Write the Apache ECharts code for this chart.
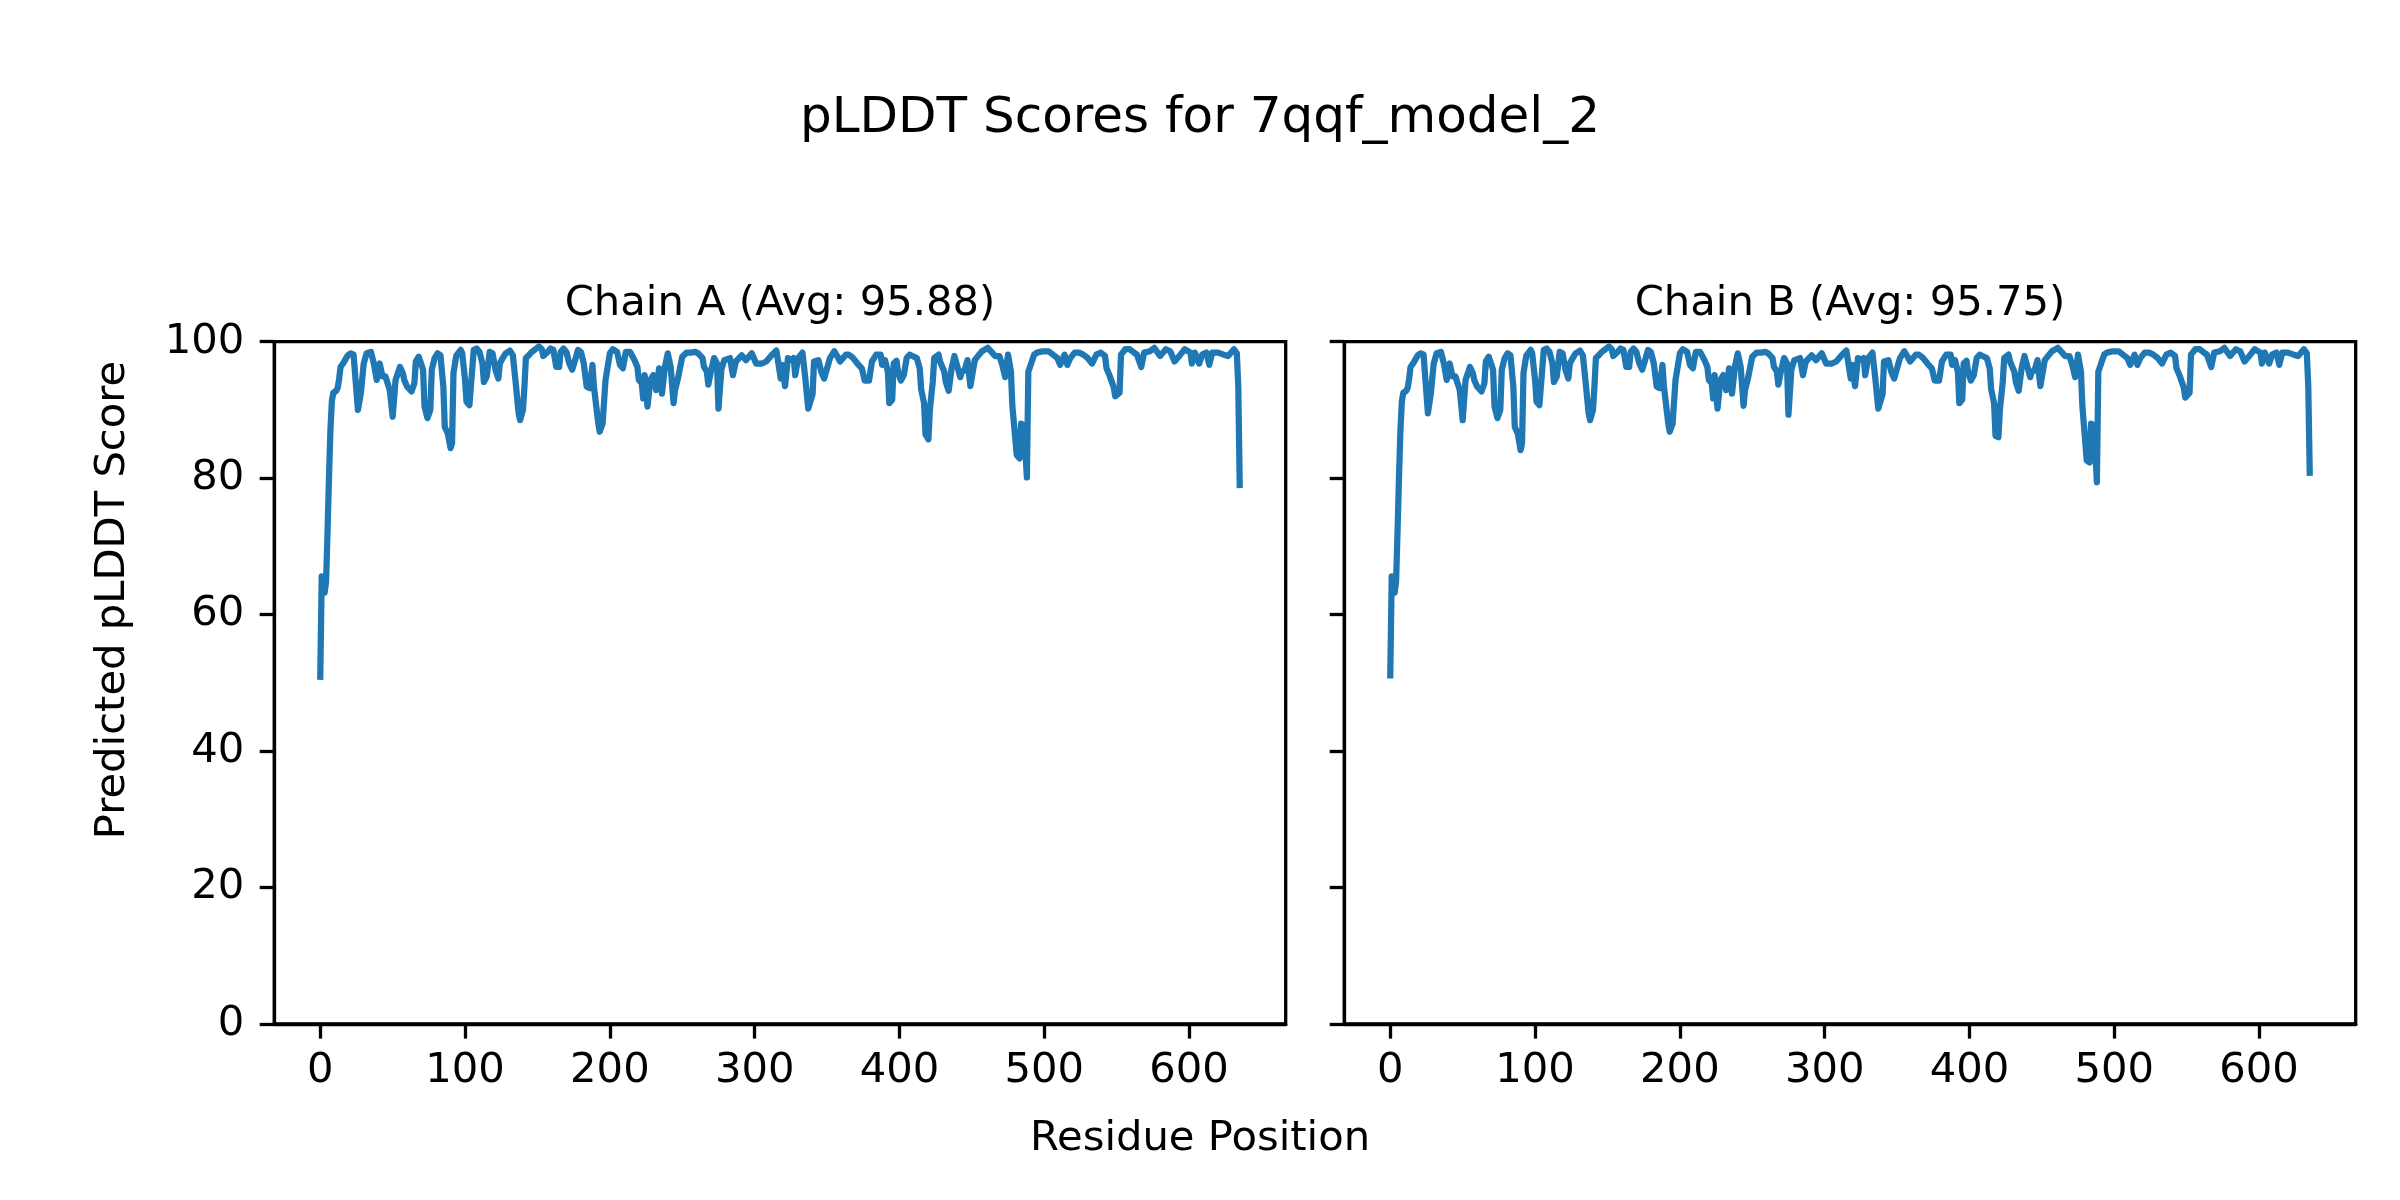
<!DOCTYPE html>
<html><head><meta charset="utf-8">
<script src="https://cdn.jsdelivr.net/npm/echarts@6/dist/echarts.min.js"></script>
<style>html,body{margin:0;padding:0;background:#fff}#c{width:2400px;height:1200px}</style>
</head><body><div id="c"></div>
<script>
// Residue positions sampled along the trace (shared by both chains)
const residues = [
0,1,2,3,4,5,6,7,8,9,
11,12,13,14,16,19,21,23,26,28,
30,32,35,37,39,41,43,45,48,50,
52,55,57,58,60,63,65,66,68,71,
72,74,76,77,79,81,83,85,86,88,
90,91,92,94,97,98,100,101,103,104,
106,108,110,112,113,115,117,119,121,123,
124,126,128,131,133,135,137,138,140,141,
142,144,146,148,151,153,154,157,159,161,
163,165,166,168,170,172,174,176,178,180,
182,184,186,188,189,192,193,195,197,200,
202,205,207,209,211,212,214,217,219,220,
222,223,224,226,228,230,232,234,235,236,
238,240,242,244,245,247,250,253,256,259,
261,264,265,267,268,270,272,274,275,277,
279,283,285,287,291,294,298,301,305,308,
312,315,318,319,321,323,326,327,328,330,
333,335,337,340,341,344,346,348,350,352,
355,357,359,363,365,368,371,374,376,379,
381,384,387,388,390,392,393,395,396,398,
399,401,403,405,407,409,412,414,415,417,
418,420,421,423,424,427,428,431,432,434,
436,438,439,442,443,445,447,449,450,452,
455,457,461,464,466,469,471,473,475,477,
478,481,483,484,486,488,489,490,493,495,
499,503,506,509,511,514,516,518,521,524,
527,530,533,536,539,542,543,545,548,549,
552,553,556,559,562,564,567,569,573,576,
580,584,587,590,594,597,601,602,604,607,
609,612,614,616,620,624,627,631,633,634,
635];

const scoresA = [
50.9,65.6,65.4,63.2,64.8,72,80,87,91.3,92.5,
92.8,93.2,94.5,96.3,96.9,98.0,98.3,98.1,90.0,92.4,
96.8,98.3,98.5,96.8,94.4,96.8,94.9,94.9,92.9,89.0,
94.4,96.3,95.4,94.4,93.4,92.7,93.9,97.1,97.8,95.9,
90.5,88.8,90.0,95.9,97.6,98.3,98.0,93.4,87.5,86.6,
84.4,85.1,95.4,98.0,98.8,98.3,94.4,91.2,90.7,93.4,
98.8,99.0,98.5,96.8,94.1,94.9,98.5,98.3,95.9,94.6,
96.8,97.6,98.3,98.7,98.0,93.9,89.5,88.5,90.0,93.4,
97.6,98.0,98.5,98.8,99.3,98.9,97.9,98.5,99.0,98.8,
96.3,96.3,98.5,99.0,98.5,96.8,95.9,97.3,98.8,98.5,
96.8,93.4,93.2,96.6,93.4,88.0,86.8,88.0,94.4,98.3,
98.9,98.5,96.6,96.1,98.5,98.3,98.5,97.3,96.3,94.4,
93.9,91.7,95.1,90.5,94.4,95.1,92.9,96.1,96.1,92.4,
96.3,98.3,96.3,91.0,92.9,94.6,97.8,98.4,98.4,98.5,
98.3,97.6,96.3,95.6,93.7,95.9,97.6,96.8,90.2,95.9,
97.3,97.6,95.1,97.1,98.0,97.3,98.3,96.8,96.8,97.1,
98.1,98.7,94.6,96.6,93.5,97.6,97.3,97.6,95.1,97.6,
98.4,94.6,90.2,92.3,97.1,97.3,95.6,94.6,96.1,97.6,
98.6,97.9,97.1,98.1,98.1,97.6,96.8,96.1,94.3,94.3,
97.1,98.1,98.1,96.6,97.3,95.6,91.0,91.5,96.8,97.2,
95.6,94.3,95.1,97.6,98.1,97.9,97.6,96.1,93.0,91.0,
86.4,85.7,90.0,94.1,97.6,98.1,97.1,95.6,94.1,92.8,
96.1,97.9,97.1,94.8,95.6,95.8,97.3,93.5,93.3,97.3,
98.1,98.6,99.1,98.4,97.9,97.9,96.6,94.8,98.1,95.6,
90.5,83.4,82.9,88.0,87.7,80.1,95.6,95.8,98.1,98.4,
98.6,98.6,98.1,97.6,96.6,98.1,96.6,97.6,98.4,98.4,
98.1,97.6,96.8,98.1,98.4,97.9,96.1,95.1,93.3,92.0,
92.5,98.1,98.9,98.9,98.4,98.1,96.3,98.4,98.6,99.1,
97.9,98.9,98.6,97.1,98.1,98.9,98.4,96.8,98.4,96.8,
98.1,98.4,96.6,98.4,98.4,98.1,97.9,98.9,98.3,93.5,
79.0];

const scoresB = [
51.1,65.6,65.4,63.2,64.8,72,80,87,91.3,92.5,
92.8,93.2,94.5,96.3,96.9,98.0,98.3,98.1,89.5,92.4,
96.8,98.3,98.5,96.8,94.4,96.8,94.9,94.9,92.9,88.5,
94.4,96.3,95.4,94.4,93.4,92.7,93.9,97.1,97.8,95.9,
90.5,88.8,90.0,95.9,97.6,98.3,98.0,93.4,87.5,86.6,
84.1,85.1,95.4,98.0,98.8,98.3,94.4,91.2,90.7,93.4,
98.8,99.0,98.5,96.8,94.1,94.9,98.5,98.3,95.9,94.6,
96.8,97.6,98.3,98.7,98.0,93.9,89.5,88.5,90.0,93.4,
97.6,98.0,98.5,98.8,99.3,98.9,97.9,98.5,99.0,98.8,
96.3,96.3,98.5,99.0,98.5,96.8,95.9,97.3,98.8,98.5,
96.8,93.4,93.2,96.6,93.4,88.0,86.8,88.0,94.4,98.3,
98.9,98.5,96.6,96.1,98.5,98.3,98.5,97.3,96.3,94.4,
93.9,91.7,95.1,90.2,94.4,95.1,92.9,96.1,96.1,92.4,
96.3,98.3,96.3,90.6,92.9,94.6,97.8,98.4,98.4,98.5,
98.3,97.6,96.3,95.6,93.7,95.9,97.6,96.8,89.3,95.9,
97.3,97.6,95.1,97.1,98.0,97.3,98.3,96.8,96.8,97.1,
98.1,98.7,94.6,96.6,93.5,97.6,97.3,97.6,95.1,97.6,
98.4,94.6,90.2,92.3,97.1,97.3,95.6,94.6,96.1,97.6,
98.6,97.9,97.1,98.1,98.1,97.6,96.8,96.1,94.3,94.3,
97.1,98.1,98.1,96.6,97.3,95.6,91.0,91.5,96.8,97.2,
95.6,94.3,95.1,97.6,98.1,97.9,97.6,96.1,93.0,91.0,
86.2,86.0,90.0,94.1,97.6,98.1,97.1,95.6,94.1,92.8,
96.1,97.9,97.1,94.8,95.6,95.8,97.3,93.5,93.3,97.3,
98.1,98.6,99.1,98.4,97.9,97.9,96.6,94.8,98.1,95.6,
90.5,82.6,82.3,88.0,87.7,79.4,95.6,95.8,98.1,98.4,
98.6,98.6,98.1,97.6,96.6,98.1,96.6,97.6,98.4,98.4,
98.1,97.6,96.8,98.1,98.4,97.9,96.1,95.1,93.3,91.8,
92.5,98.1,98.9,98.9,98.4,98.1,96.3,98.4,98.6,99.1,
97.9,98.9,98.6,97.1,98.1,98.9,98.4,96.8,98.4,96.8,
98.1,98.4,96.6,98.4,98.4,98.1,97.9,98.9,98.3,93.5,
80.8];

const xTicks = [0, 100, 200, 300, 400, 500, 600];
const yTicks = [0, 20, 40, 60, 80, 100];
const figureTitle = 'pLDDT Scores for 7qqf_model_2';
const chainTitles = ['Chain A (Avg: 95.88)', 'Chain B (Avg: 95.75)'];
const xAxisName = 'Residue Position';
const yAxisName = 'Predicted pLDDT Score';

const FONT = 'DejaVu Sans';
const BLUE = '#1f77b4';
const LW = 3.3;
const TICK = 14.6;
const FS = 41.7;

const chart = echarts.init(document.getElementById('c'), null,
  {renderer: 'canvas', width: 2400, height: 1200, devicePixelRatio: 1});

const dMin = Math.min(...residues), dMax = Math.max(...residues);
const span = dMax - dMin;
const xMin = dMin - 0.05 * span, xMax = dMax + 0.05 * span;

const gridBoxes = [
  {left: 274.3, top: 341.7, width: 1011.4, height: 682.3},
  {left: 1344.3, top: 341.7, width: 1011.4, height: 682.3}
];
const chainCenters = gridBoxes.map(g => g.left + g.width / 2);

function xAxisFor(i) {
  return {
    type: 'value', gridIndex: i, min: xMin, max: xMax,
    splitLine: {show: false},
    axisLine: {show: true, onZero: false, lineStyle: {color: '#000', width: LW}},
    axisTick: {show: true, length: TICK, customValues: xTicks, lineStyle: {color: '#000', width: LW}},
    axisLabel: {show: true, customValues: xTicks, margin: 26, color: '#000',
      fontFamily: FONT, fontSize: FS, formatter: v => String(v)}
  };
}
function yAxisFor(i, showLabels) {
  return {
    type: 'value', gridIndex: i, min: 0, max: 100, interval: 20,
    splitLine: {show: false},
    axisLine: {show: true, onZero: false, lineStyle: {color: '#000', width: LW}},
    axisTick: {show: true, length: TICK, lineStyle: {color: '#000', width: LW}},
    axisLabel: {show: showLabels, margin: 30, color: '#000', fontFamily: FONT,
      fontSize: FS, padding: [5.6, 0, 0, 0]}
  };
}
function seriesFor(i, scores) {
  return {
    type: 'line', xAxisIndex: i, yAxisIndex: i,
    data: residues.map((r, k) => [r, scores[k]]),
    showSymbol: false, symbol: 'none', clip: true, animation: false,
    lineStyle: {color: BLUE, width: 6.25, cap: 'square', join: 'round'},
    z: 1
  };
}
function text(str, x, y, size, rot) {
  return {
    type: 'text', x: x, y: y, rotation: rot || 0, silent: true,
    style: {text: str, fill: '#000', fontFamily: FONT, fontSize: size,
      align: 'center', verticalAlign: 'middle',
      textAlign: 'center', textVerticalAlign: 'middle'}
  };
}

chart.setOption({
  backgroundColor: '#fff',
  animation: false,
  grid: gridBoxes.map(g => Object.assign({show: true, borderColor: '#000', borderWidth: LW,
    backgroundColor: 'transparent', containLabel: false, outerBoundsMode: 'none'}, g)),
  xAxis: [xAxisFor(0), xAxisFor(1)],
  yAxis: [yAxisFor(0, true), yAxisFor(1, false)],
  series: [seriesFor(0, scoresA), seriesFor(1, scoresB)],
  graphic: [
    text(figureTitle, 1200, 119.2, 50),
    text(chainTitles[0], chainCenters[0], 304.5, FS),
    text(chainTitles[1], chainCenters[1], 304.5, FS),
    text(xAxisName, 1200, 1139.5, FS),
    text(yAxisName, 113, 600, FS, Math.PI / 2)
  ]
});
</script>
</body></html>
